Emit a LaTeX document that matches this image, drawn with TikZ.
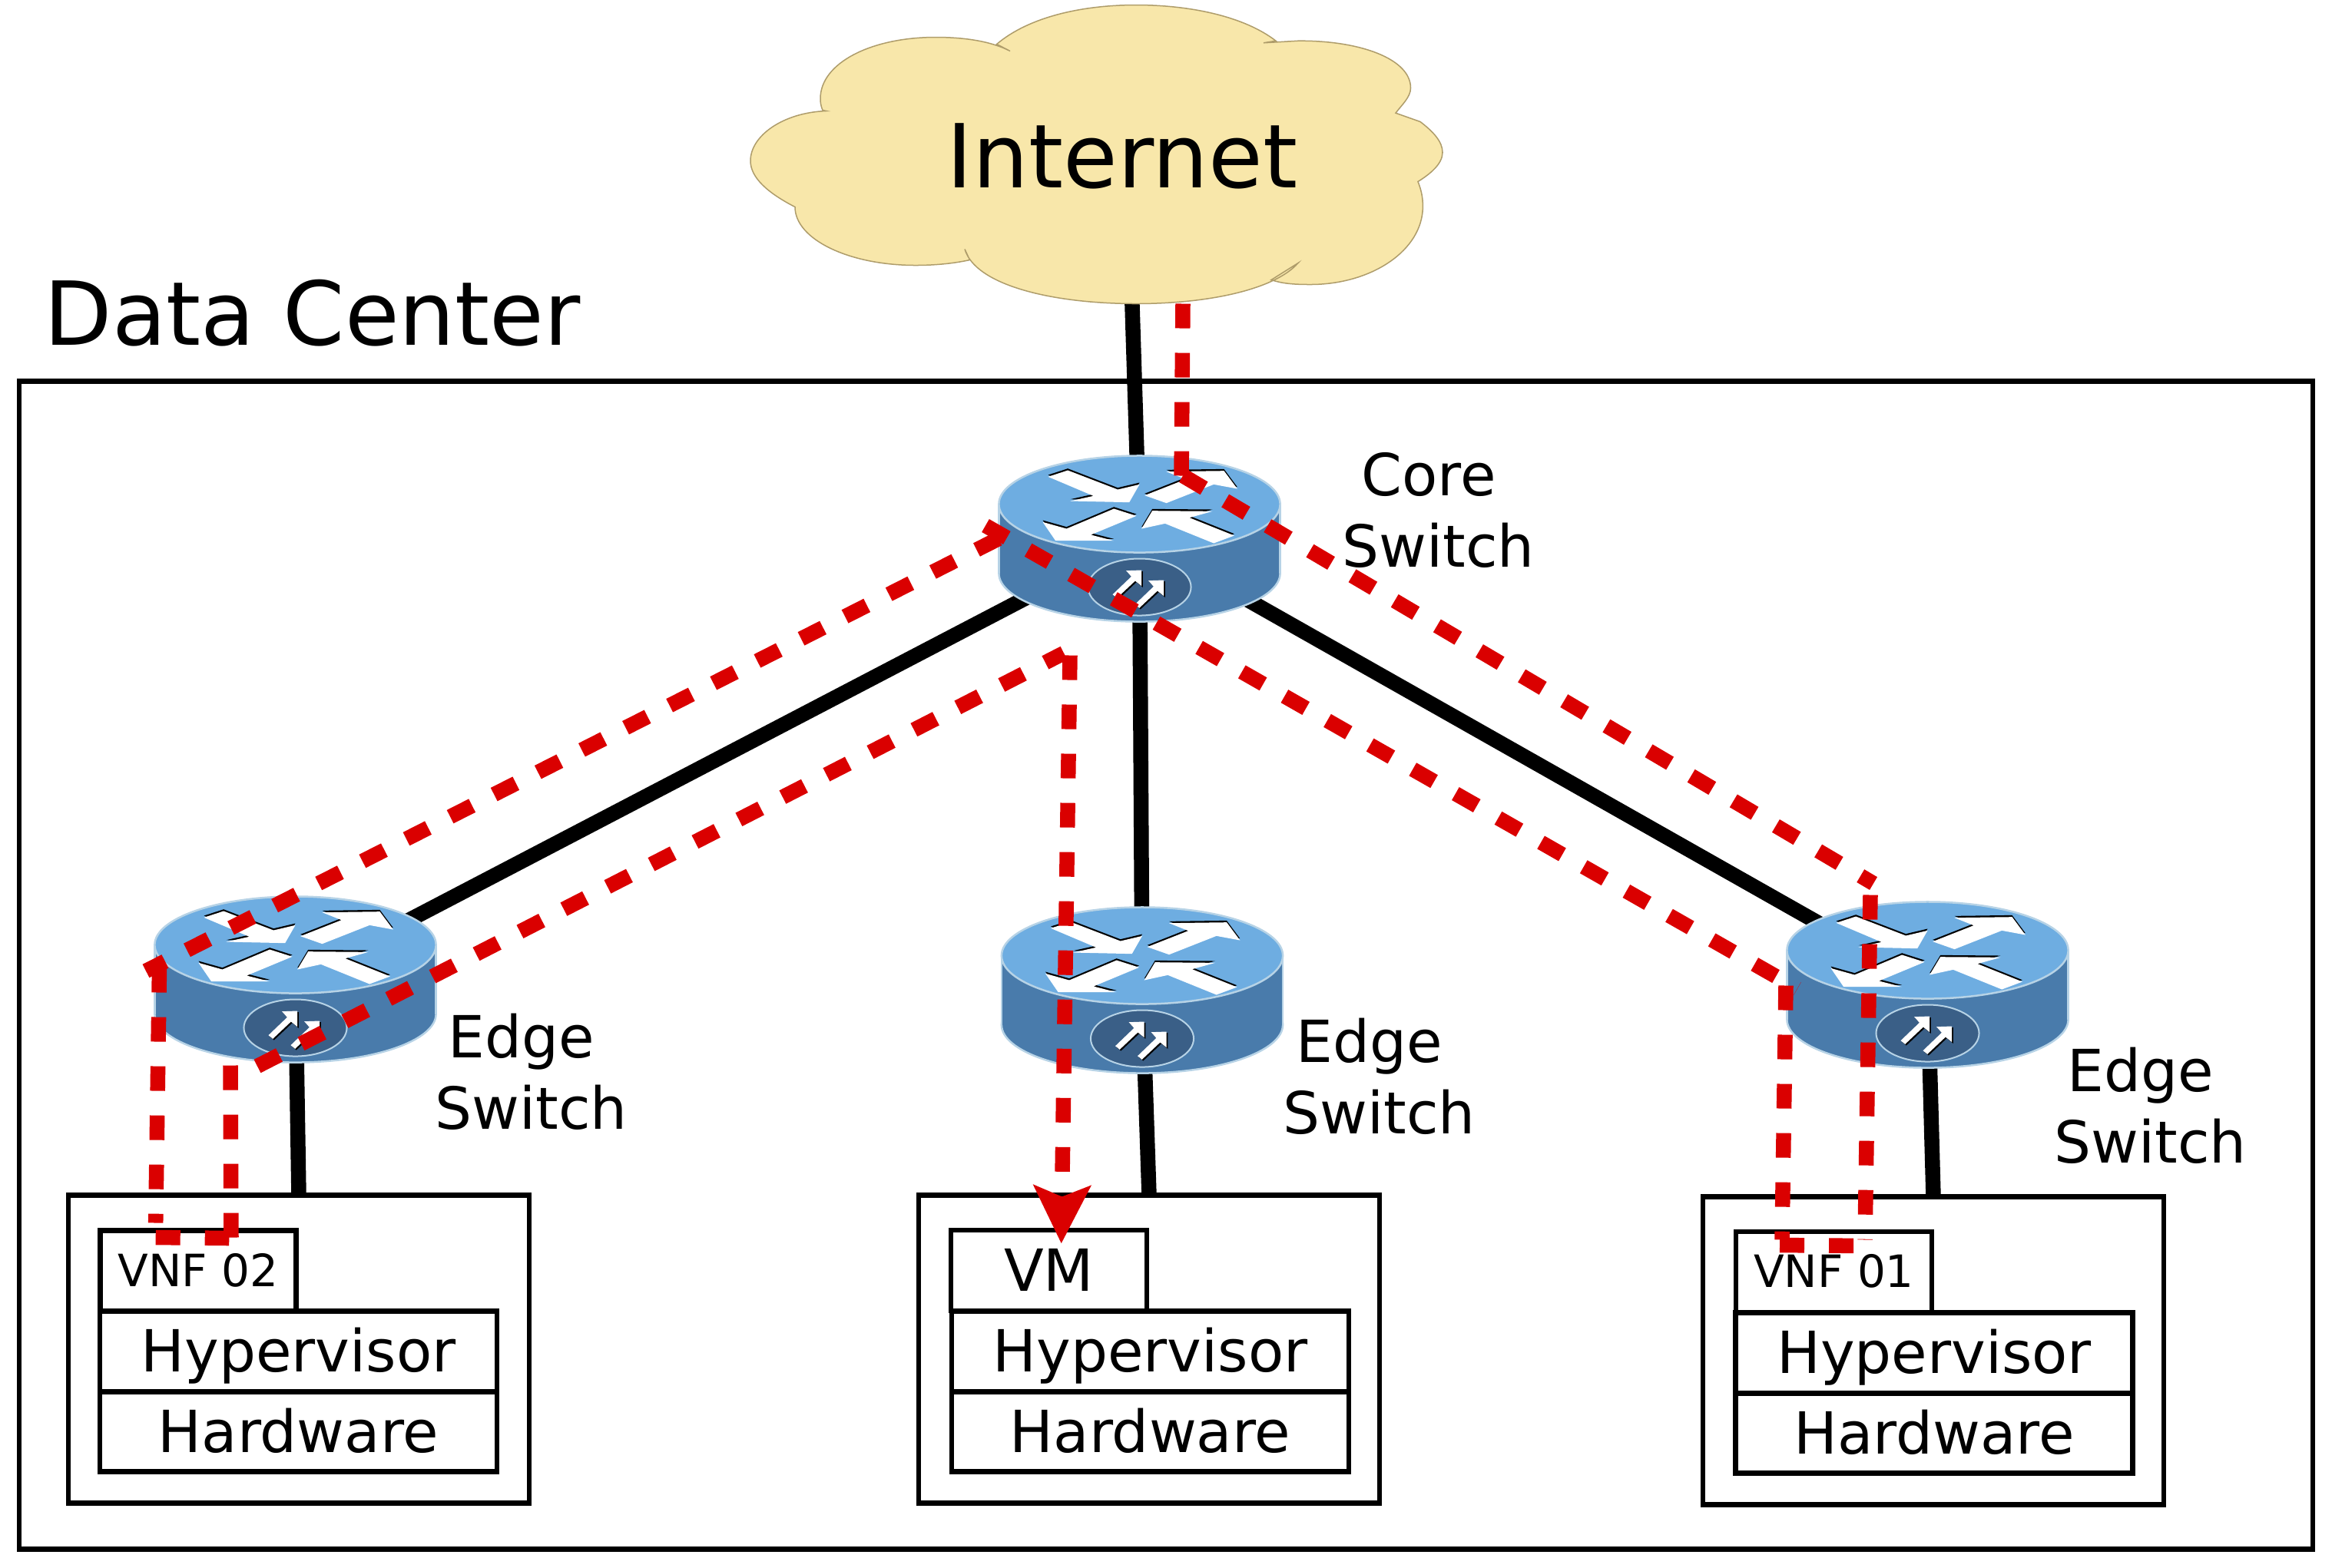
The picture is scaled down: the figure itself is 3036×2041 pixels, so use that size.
\documentclass[tikz,border=0pt]{standalone}
\usepackage{fontspec}
\setmainfont{DejaVu Sans}
\usetikzlibrary{arrows.meta}
\usepackage{xcolor}
\definecolor{cloudfill}{HTML}{F8E7AA}
\definecolor{cloudedge}{HTML}{AE9C6A}
\definecolor{swtop}{HTML}{6EADE1}
\definecolor{swside}{HTML}{497BAB}
\definecolor{swoval}{HTML}{3A5F87}
\definecolor{swedge}{HTML}{B7D3E6}
\definecolor{pathred}{HTML}{DA0000}

\newcommand{\bigarrows}{
  (-357,-110) -- (-280,-135) -- (-85,-60) -- (0,-80) -- (-40,-10) -- (-270,-15) -- (-180,-35) -- cycle
  (20,-37) -- (180,-100) -- (105,-130) -- (330,-133) -- (382,-63) -- (290,-80) -- (105,-7) -- cycle
  (-12,43) -- (-100,15) -- (-285,93) -- (-378,67) -- (-328,140) -- (-100,140) -- (-190,117) -- cycle
  (8,93) -- (50,23) -- (285,25) -- (195,50) -- (370,120) -- (290,150) -- (100,73) -- cycle}
\newcommand{\smallarrows}{
  (-105,353) -- (-88,367) -- (-17,300) -- (8,320) -- (8,258) -- (-52,260) -- (-32,283) -- cycle
  (-18,392) -- (-1,406) -- (70,339) -- (95,359) -- (95,297) -- (35,299) -- (55,322) -- cycle}

\tikzset{
  blackline/.style={line width=0.195cm,black},
  redline/.style={line width=0.195cm,pathred,dash pattern=on 0.32cm off 0.32cm},
  hostbox/.style={draw,line width=0.065cm,inner sep=0,outer sep=0,minimum width=6cm,minimum height=4.01cm},
  tallbox/.style={draw,line width=0.065cm,inner sep=0,outer sep=0,font=\fontsize{21.5}{26}\selectfont,
    text height=0.6cm,text depth=0.07cm},
  slotbox/.style={tallbox,minimum width=2.55cm,minimum height=1.05cm},
  vnfbox/.style={slotbox,font=\fontsize{16.5}{20}\selectfont,text height=0.45cm,text depth=0.05cm},
  layerbox/.style={tallbox,minimum width=5.17cm,minimum height=1.05cm},
  swlabel/.style={anchor=base west,inner sep=0,align=left,font=\fontsize{21.5}{26.4}\selectfont},
  bigtext/.style={inner sep=0,font=\fontsize{32.7}{38}\selectfont},
  pics/router/.style={code={
    \path[fill=swside,draw=swedge,line width=0.025cm] (0,45) ellipse (1.83cm and 0.63cm);
    \fill[swside] (-183,-45) rectangle (183,45);
    \draw[swedge,line width=0.025cm] (-183,-45) -- (-183,45) (183,-45) -- (183,45);
    \path[fill=swtop,draw=swedge,line width=0.025cm] (0,-45) ellipse (1.83cm and 0.63cm);
    \path[fill=swoval,draw=swedge,line width=0.02cm] (0,63) ellipse (0.67cm and 0.37cm);
    \begin{scope}[shift={(0,-45)},scale=1/3]
      \fill[black,shift={(0,-4)}] \bigarrows;
      \fill[white,shift={(0,3)}] \bigarrows;
      \fill[black,shift={(5,5)}] \smallarrows;
      \fill[white] \smallarrows;
    \end{scope}
  }}
}

\begin{document}
\begin{tikzpicture}[x=0.01cm,y=-0.01cm]
  \useasboundingbox (0,-1.5) rectangle (3036,2039.5);
  \node[draw,line width=0.065cm,inner sep=0,outer sep=0,minimum width=29.84cm,minimum height=15.2cm] (center) at (1518,1255.5) {};
  \node[bigtext,anchor=base west] (dc) at (57,448) {Data Center};

  \coordinate (core) at (1483.5,700);
  \coordinate (edgeL) at (384.5,1274);
  \coordinate (edgeM) at (1487,1288);
  \coordinate (edgeR) at (2509.5,1281);
  \coordinate (cloudout) at (1468,205);

  \node[hostbox] (hostL) at (389,1755.5) {};
  \node[hostbox] (hostM) at (1496,1755.5) {};
  \node[hostbox] (hostR) at (2517,1757.5) {};

  \draw[blackline] (cloudout) -- (core);
  \draw[blackline] (core) -- (edgeL);
  \draw[blackline] (core) -- (edgeM);
  \draw[blackline] (core) -- (edgeR);
  \draw[blackline] (edgeL) -- (hostL.north);
  \draw[blackline] (edgeM) -- (hostM.north);
  \draw[blackline] (edgeR) -- (hostR.north);

  \pic at (core) {router};
  \pic at (edgeL) {router};
  \pic at (edgeM) {router};
  \pic at (edgeR) {router};

  \path[fill=cloudfill,draw=cloudedge,line width=0.015cm] (1297.6,56)
    .. controls (1340,20) and (1410,5) .. (1479,5)
    .. controls (1550,5) and (1620,20) .. (1661,51.7) -- (1645,54.3) -- (1690,51.7)
    .. controls (1770,51) and (1836.5,75) .. (1836.5,113)
    .. controls (1836.5,125) and (1825,135) .. (1817,145.7) -- (1849,157)
    .. controls (1866,170) and (1878,183) .. (1878,197)
    .. controls (1878,212) and (1862,225) .. (1846,235)
    .. controls (1850,245) and (1852.4,255) .. (1852.4,267)
    .. controls (1852.4,325) and (1785,369) .. (1706,369)
    .. controls (1685,369) and (1670,368) .. (1655,363) -- (1690,341)
    .. controls (1660,375) and (1575,394) .. (1479,394)
    .. controls (1370,394) and (1270,370) .. (1256,323) -- (1262.5,337)
    .. controls (1240,342) and (1215,344) .. (1192,344)
    .. controls (1105,344) and (1035,310) .. (1035,268)
    .. controls (1000,250) and (977,230) .. (977,208)
    .. controls (977,175) and (1020,145) .. (1075.6,143) -- (1071,142)
    .. controls (1068,135) and (1068,130) .. (1068,127)
    .. controls (1068,80) and (1135,47) .. (1218,47)
    .. controls (1255,47) and (1290,52) .. (1315,65) -- cycle;
  \node[bigtext,anchor=base] (inet) at (1461,243) {Internet};

  \node[swlabel] (coresw) at (1747,737) {\hspace*{0.25cm}Core\\Switch};
  \node[swlabel] (edgeLsw) at (566,1469) {\hspace*{0.17cm}Edge\\Switch};
  \node[swlabel] (edgeMsw) at (1670,1475) {\hspace*{0.17cm}Edge\\Switch};
  \node[swlabel] (edgeRsw) at (2674,1513) {\hspace*{0.17cm}Edge\\Switch};

  \node[vnfbox] (vnfL) at (258,1653.5) {VNF 02};
  \node[layerbox] (hypL) at (388.5,1758.5) {Hypervisor};
  \node[layerbox,minimum height=1.04cm] (hwL) at (388.5,1863) {Hardware};
  \node[slotbox] (vmM) at (1365.5,1653) {VM};
  \node[layerbox] (hypM) at (1497.5,1758.5) {Hypervisor};
  \node[layerbox,minimum height=1.04cm] (hwM) at (1497.5,1863) {Hardware};
  \node[vnfbox] (vnfR) at (2387.5,1655) {VNF 01};
  \node[layerbox] (hypR) at (2518,1760.5) {Hypervisor};
  \node[layerbox,minimum height=1.04cm] (hwR) at (2518,1865) {Hardware};

  \coordinate (r1a) at (1540,394);    \coordinate (r1b) at (1538,618);
  \coordinate (r2a) at (1540,618);    \coordinate (r2b) at (2439,1149);
  \coordinate (r3a) at (2435,1164);   \coordinate (r3b) at (2428,1613);
  \coordinate (r4a) at (2317,1620);   \coordinate (r4b) at (2430,1621);
  \coordinate (r5a) at (2325,1282);   \coordinate (r5b) at (2320,1613);
  \coordinate (r6a) at (1283,683);    \coordinate (r6b) at (2340,1286);
  \coordinate (r7a) at (1300,700);    \coordinate (r7b) at (190,1263);
  \coordinate (r8a) at (207.5,1259);  \coordinate (r8b) at (202.7,1591);
  \coordinate (r9a) at (202.7,1610);  \coordinate (r9b) at (298.3,1611);
  \coordinate (r10a) at (300,1386);   \coordinate (r10b) at (301,1610);
  \coordinate (r11a) at (335,1387);   \coordinate (r11b) at (1385,849);
  \coordinate (r12a) at (1393,852);   \coordinate (r12b) at (1381.7,1618);
  \foreach \n in {1,...,11}
    \draw[redline] (r\n a) -- (r\n b);
  \draw[redline,-{Stealth[length=0.75cm,width=0.73cm,inset=0.14cm]}] (r12a) -- (r12b);
\end{tikzpicture}
\end{document}
